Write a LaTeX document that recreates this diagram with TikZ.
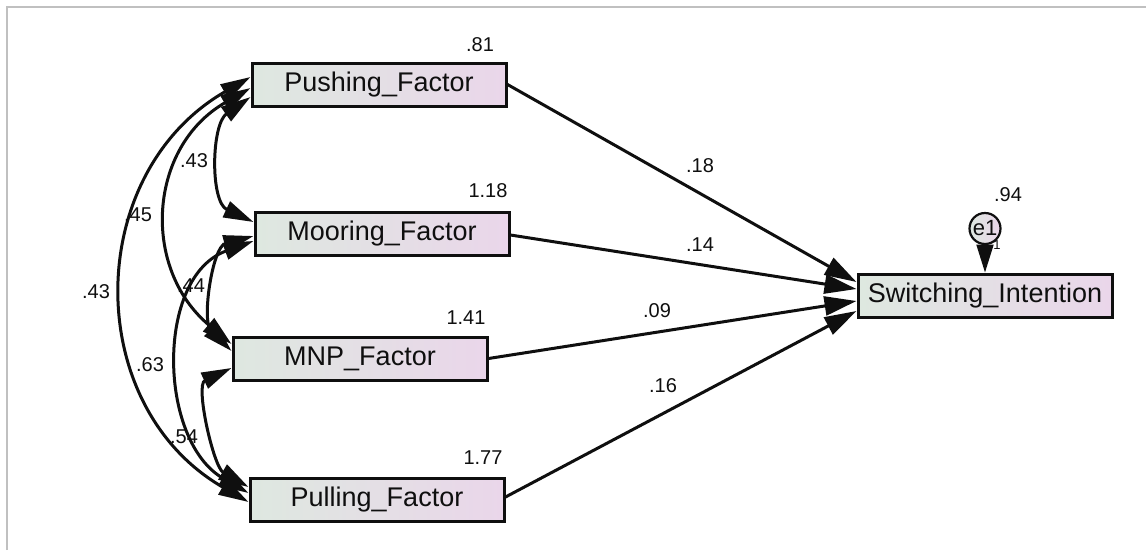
\documentclass[tikz,border=0pt]{standalone}
\usepackage{fontspec}
\setmainfont{Liberation Sans}
\usetikzlibrary{arrows.meta}

\definecolor{boxL}{RGB}{222,232,224}
\definecolor{boxR}{RGB}{234,214,234}
\definecolor{frameC}{RGB}{192,192,192}
\definecolor{ink}{RGB}{15,15,15}

\tikzset{
  var/.style={draw=ink, line width=3pt, rectangle, inner sep=0pt,
    minimum width=254pt, minimum height=43pt,
    left color=boxL, right color=boxR,
    font=\fontsize{27}{30}\selectfont, text=ink},
  err/.style={draw=ink, line width=2.2pt, circle, inner sep=0pt,
    minimum size=31pt, left color=boxL, right color=boxR},
  num/.style={font=\fontsize{20}{22}\selectfont, text=ink, inner sep=0pt},
  regpath/.style={draw=ink, line width=3pt, -{Triangle[length=32pt,width=19pt]}},
  cov/.style={draw=ink, line width=3pt,
    {Triangle[length=30pt,width=17pt]}-{Triangle[length=30pt,width=17pt]}},
}

\begin{document}
\begin{tikzpicture}[x=1pt, y=-1pt]
  \useasboundingbox (0,0) rectangle (1146,550);
  % window frame
  \draw[frameC, line width=2pt] (7,550) -- (7,7) -- (1146,7);

  % observed variables
  \node[var] (push) at (379,84.5)  {Pushing\_Factor};
  \node[var] (moor) at (382,233.5) {Mooring\_Factor};
  \node[var] (mnp)  at (360,358.5) {MNP\_Factor};
  \node[var] (pull) at (377,499.5) {Pulling\_Factor};
  \node[var] (sw)   at (985,295.5) {Switching\_Intention};

  % error term
  \node[err] (e1) at (985,228.5) {};
  \node[font=\fontsize{22}{24}\selectfont, text=ink, inner sep=0pt] (e1lab) at (985,228.5) {e1};
  \draw[draw=ink, line width=2pt, -{Triangle[length=28pt,width=17pt]}] (e1.south) -- (sw.north);
  \node[font=\fontsize{13}{14}\selectfont, text=ink, inner sep=0pt] (one) at (997,245) {1};

  % variances
  \node[num] (v1) at (480,45)   {.81};
  \node[num] (v2) at (488,191)  {1.18};
  \node[num] (v3) at (466,318)  {1.41};
  \node[num] (v4) at (483,458)  {1.77};
  \node[num] (v5) at (1008,195) {.94};

  % regression paths
  \draw[regpath] (push.east) -- ([yshift=13.5pt]sw.west);
  \draw[regpath] ([yshift=-1.5pt]moor.east) -- ([yshift=6.5pt]sw.west);
  \draw[regpath] (mnp.east) -- ([yshift=-5.5pt]sw.west);
  \draw[regpath] ([yshift=2.5pt]pull.east) -- ([yshift=-15.5pt]sw.west);

  \node[num] (b1) at (700,166) {.18};
  \node[num] (b2) at (700,245) {.14};
  \node[num] (b3) at (657,311) {.09};
  \node[num] (b4) at (663,386) {.16};

  % covariances
  \draw[cov] ([yshift=7.5pt]push.west)  to[out=210,in=150,looseness=1.16] ([yshift=-2.5pt]pull.west);
  \draw[cov] ([yshift=-3.5pt]push.west) to[out=210,in=140,looseness=1.18] ([yshift=14.5pt]mnp.west);
  \draw[cov] ([yshift=-12.5pt]push.west) to[out=215,in=155,looseness=0.98] ([yshift=11.5pt]moor.west);
  \draw[cov] ([yshift=-2.5pt]moor.west) to[out=195,in=135,looseness=0.93] ([yshift=7.5pt]mnp.west);
  \draw[cov] ([yshift=-7.5pt]moor.west) to[out=200,in=150,looseness=1.06] ([yshift=6.5pt]pull.west);
  \draw[cov] ([yshift=-9.5pt]mnp.west)  to[out=205,in=150,looseness=0.86] ([yshift=12.5pt]pull.west);

  \node[num] (c1) at (194,161) {.43};
  \node[num] (c2) at (138,215) {.45};
  \node[num] (c3) at (96,292)  {.43};
  \node[num] (c4) at (191,286) {.44};
  \node[num] (c5) at (150,365) {.63};
  \node[num] (c6) at (184,437) {.54};
\end{tikzpicture}
\end{document}
